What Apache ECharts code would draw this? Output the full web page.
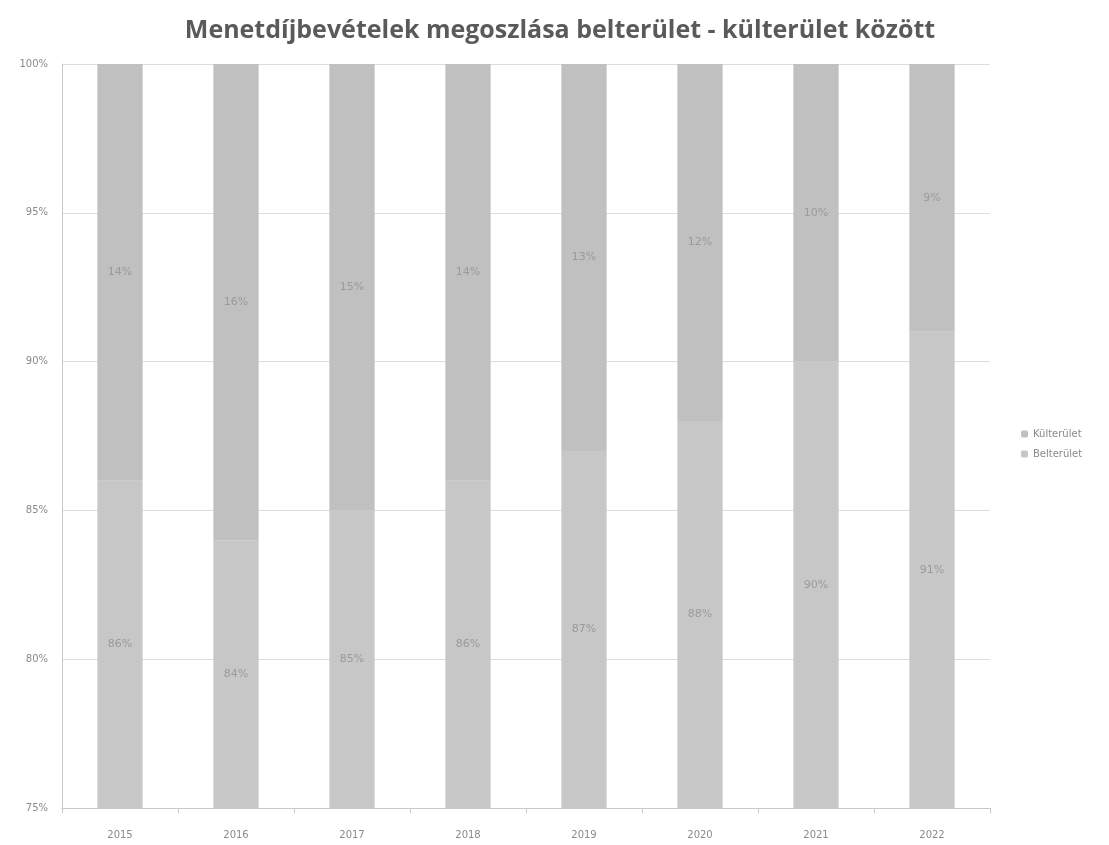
<!DOCTYPE html>
<html>
<head>
<meta charset="utf-8">
<script src="https://cdn.jsdelivr.net/npm/echarts@6/dist/echarts.min.js"></script>
<style>
  html, body { margin: 0; padding: 0; background: #fff; }
  #chart { width: 1109px; height: 845px; }
</style>
</head>
<body>
<div id="chart"></div>
<script>
const years = ['2015', '2016', '2017', '2018', '2019', '2020', '2021', '2022'];
const belterulet = [86, 84, 85, 86, 87, 88, 90, 91];
const kulterulet = [14, 16, 15, 14, 13, 12, 10, 9];

const chart = echarts.init(document.getElementById('chart'));

const labelStyle = {
    show: true,
    position: 'inside',
    color: '#9a9a9a',
    fontSize: 11,
    fontFamily: 'Verdana, DejaVu Sans, sans-serif',
    formatter: (p) => p.value + '%'
};

const option = {
    title: {
        text: 'Menetdíjbevételek megoszlása belterület - külterület között',
        left: 555,
        textAlign: 'center',
        top: 13,
        textStyle: {
            fontFamily: 'Open Sans, Lato, sans-serif',
            fontWeight: 'bold',
            fontSize: 25,
            color: '#5a5a5a'
        }
    },
    legend: {
        orient: 'vertical',
        left: 1016,
        top: 424,
        itemWidth: 7,
        itemHeight: 7,
        itemGap: 10,
        textStyle: { color: '#8a8a8a', fontSize: 10, fontFamily: 'Verdana, DejaVu Sans, sans-serif' },
        data: ['Külterület', 'Belterület']
    },
    grid: { left: 62, right: 119, top: 64, bottom: 37 },
    xAxis: {
        type: 'category',
        data: years,
        axisLine: { lineStyle: { color: '#c8c8c8' } },
        axisTick: { show: true, lineStyle: { color: '#c8c8c8' } },
        axisLabel: { color: '#8a8a8a', fontSize: 10, margin: 22, fontFamily: 'Verdana, DejaVu Sans, sans-serif' }
    },
    yAxis: {
        type: 'value',
        min: 75,
        max: 100,
        interval: 5,
        axisLine: { show: true, lineStyle: { color: '#c8c8c8' } },
        axisTick: { show: false },
        splitLine: { lineStyle: { color: '#dedede' } },
        axisLabel: { color: '#8a8a8a', fontSize: 10, margin: 14, formatter: '{value}%', fontFamily: 'Verdana, DejaVu Sans, sans-serif' }
    },
    series: [
        {
            name: 'Belterület',
            type: 'bar',
            stack: 'total',
            barWidth: '39%',
            data: belterulet,
            itemStyle: { color: '#c7c7c7' },
            label: labelStyle
        },
        {
            name: 'Külterület',
            type: 'bar',
            stack: 'total',
            barWidth: '39%',
            data: kulterulet,
            itemStyle: { color: '#c0c0c0' },
            label: labelStyle
        }
    ]
};

chart.setOption(option);
</script>
</body>
</html>
